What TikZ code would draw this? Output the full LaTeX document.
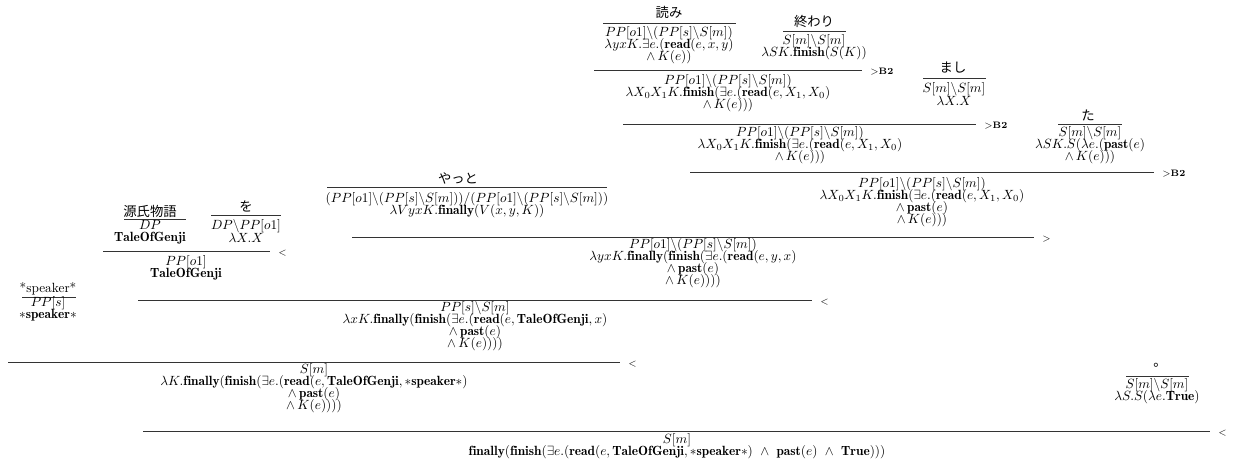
\documentclass[tikz,border=0pt]{standalone}
\usepackage{fontspec}
\newfontfamily\jp{Noto Sans CJK JP}
\newcommand{\bfp}[1]{\mathbf{#1}}
\setlength{\lineskiplimit}{-100pt}
\tikzset{
  lex/.style={inner sep=0pt, font=\jp},
  sem/.style={align=center, inner sep=0pt, font=\fontsize{10}{9.1}\selectfont},
  rul/.style={line width=0.6pt, draw=black!80},
  rlab/.style={anchor=west, inner sep=0pt, font=\scriptsize, xshift=6pt, yshift=-1.5pt},
}
\begin{document}
\begin{tikzpicture}[x=0.75pt, y=-0.75pt]
\useasboundingbox (0,0) rectangle (1240,463);

% lexical entries
\node[lex] (yomi) at (669,12) {読み};
\coordinate (yomiL) at (603,23); \coordinate (yomiR) at (736,23);
\draw[rul] (yomiL) -- (yomiR);
\node[sem] (yomiS) at (669,45) {$PP[o1]\backslash(PP[s]\backslash S[m])$\\ $\lambda yxK.\exists e.(\bfp{read}(e,x,y)$\\ $\wedge\,K(e))$};

\node[lex] (owari) at (814,21) {終わり};
\coordinate (owariL) at (783,31); \coordinate (owariR) at (846,31);
\draw[rul] (owariL) -- (owariR);
\node[sem] (owariS) at (814,47) {$S[m]\backslash S[m]$\\ $\lambda SK.\bfp{finish}(S(K))$};

\node[lex] (mashi) at (953,68) {まし};
\coordinate (mashiL) at (923,78); \coordinate (mashiR) at (986,78);
\draw[rul] (mashiL) -- (mashiR);
\node[sem] (mashiS) at (954,94) {$S[m]\backslash S[m]$\\ $\lambda X.X$};

\node[lex] (ta) at (1088,115) {た};
\coordinate (taL) at (1058,124); \coordinate (taR) at (1122,124);
\draw[rul] (taL) -- (taR);
\node[sem] (taS) at (1090,145) {$S[m]\backslash S[m]$\\ $\lambda SK.S(\lambda e.(\bfp{past}(e)$\\ $\wedge\,K(e)))$};

\node[lex] (yatto) at (458,178) {やっと};
\coordinate (yattoL) at (327,187); \coordinate (yattoR) at (607,187);
\draw[rul] (yattoL) -- (yattoR);
\node[sem] (yattoS) at (467,205) {$(PP[o1]\backslash(PP[s]\backslash S[m]))/(PP[o1]\backslash(PP[s]\backslash S[m]))$\\ $\lambda VyxK.\bfp{finally}(V(x,y,K))$};

\node[lex] (genji) at (150,211) {源氏物語};
\coordinate (genjiL) at (124,219); \coordinate (genjiR) at (186,219);
\draw[rul] (genjiL) -- (genjiR);
\node[sem] (genjiS) at (150,232) {$DP$\\ $\bfp{TaleOfGenji}$};

\node[lex] (wo) at (246,206) {を};
\coordinate (woL) at (211,215); \coordinate (woR) at (281,215);
\draw[rul] (woL) -- (woR);
\node[sem] (woS) at (246,231) {$DP\backslash PP[o1]$\\ $\lambda X.X$};

\node[sem] (speaker) at (48,289) {*speaker*};
\coordinate (speakerL) at (22,297); \coordinate (speakerR) at (76,297);
\draw[rul] (speakerL) -- (speakerR);
\node[sem] (speakerS) at (48,309) {$PP[s]$\\ ${\ast}\bfp{speaker}{\ast}$};

\node[lex] (maru) at (1160,365) {。};
\coordinate (maruL) at (1126,376); \coordinate (maruR) at (1189,376);
\draw[rul] (maruL) -- (maruR);
\node[sem] (maruS) at (1157,391) {$S[m]\backslash S[m]$\\ $\lambda S.S(\lambda e.\bfp{True})$};

% combinations
\coordinate (r1L) at (594,70); \coordinate (r1R) at (862,70);
\draw[rul] (r1L) -- (r1R) node[rlab] (r1lab) {$>$\textbf{B2}};
\node[sem] (r1S) at (728,93) {$PP[o1]\backslash(PP[s]\backslash S[m])$\\ $\lambda X_0X_1K.\bfp{finish}(\exists e.(\bfp{read}(e,X_1,X_0)$\\ $\wedge\,K(e)))$};

\coordinate (r2L) at (623,124); \coordinate (r2R) at (976,124);
\draw[rul] (r2L) -- (r2R) node[rlab] (r2lab) {$>$\textbf{B2}};
\node[sem] (r2S) at (800,145) {$PP[o1]\backslash(PP[s]\backslash S[m])$\\ $\lambda X_0X_1K.\bfp{finish}(\exists e.(\bfp{read}(e,X_1,X_0)$\\ $\wedge\,K(e)))$};

\coordinate (r3L) at (690,172); \coordinate (r3R) at (1154,172);
\draw[rul] (r3L) -- (r3R) node[rlab] (r3lab) {$>$\textbf{B2}};
\node[sem] (r3S) at (922,202) {$PP[o1]\backslash(PP[s]\backslash S[m])$\\ $\lambda X_0X_1K.\bfp{finish}(\exists e.(\bfp{read}(e,X_1,X_0)$\\ $\wedge\,\bfp{past}(e)$\\ $\wedge\,K(e)))$};

\coordinate (r4L) at (352,237); \coordinate (r4R) at (1034,237);
\draw[rul] (r4L) -- (r4R) node[rlab] (r4lab) {$>$};
\node[sem] (r4S) at (693,263) {$PP[o1]\backslash(PP[s]\backslash S[m])$\\ $\lambda yxK.\bfp{finally}(\bfp{finish}(\exists e.(\bfp{read}(e,y,x)$\\ $\wedge\,\bfp{past}(e)$\\ $\wedge\,K(e))))$};

\coordinate (r5L) at (103,251); \coordinate (r5R) at (270,251);
\draw[rul] (r5L) -- (r5R) node[rlab] (r5lab) {$<$};
\node[sem] (r5S) at (186,268) {$PP[o1]$\\ $\bfp{TaleOfGenji}$};

\coordinate (r6L) at (138,300); \coordinate (r6R) at (812,300);
\draw[rul] (r6L) -- (r6R) node[rlab] (r6lab) {$<$};
\node[sem] (r6S) at (475,326) {$PP[s]\backslash S[m]$\\ $\lambda xK.\bfp{finally}(\bfp{finish}(\exists e.(\bfp{read}(e,\bfp{TaleOfGenji},x)$\\ $\wedge\,\bfp{past}(e)$\\ $\wedge\,K(e))))$};

\coordinate (r7L) at (8,362); \coordinate (r7R) at (620,362);
\draw[rul] (r7L) -- (r7R) node[rlab] (r7lab) {$<$};
\node[sem] (r7S) at (314,388) {$S[m]$\\ $\lambda K.\bfp{finally}(\bfp{finish}(\exists e.(\bfp{read}(e,\bfp{TaleOfGenji},{\ast}\bfp{speaker}{\ast})$\\ $\wedge\,\bfp{past}(e)$\\ $\wedge\,K(e))))$};

\coordinate (r8L) at (143,431); \coordinate (r8R) at (1210,431);
\draw[rul] (r8L) -- (r8R) node[rlab] (r8lab) {$<$};
\node[sem] (r8S) at (677,446) {$S[m]$\\ $\bfp{finally}(\bfp{finish}(\exists e.(\bfp{read}(e,\bfp{TaleOfGenji},{\ast}\bfp{speaker}{\ast})\ \wedge\ \bfp{past}(e)\ \wedge\ \bfp{True})))$};
\end{tikzpicture}
\end{document}
